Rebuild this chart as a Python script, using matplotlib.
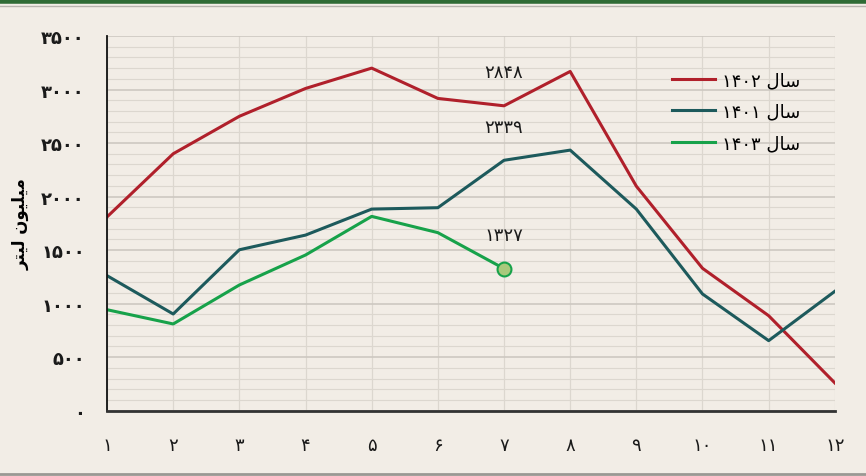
import numpy as np
import matplotlib
matplotlib.use('Agg')
from matplotlib import pyplot as plt
from matplotlib.lines import Line2D
from matplotlib.ticker import MultipleLocator

# ماه‌ها و مقادیر (میلیون لیتر)
months = list(range(1, 13))
s1402 = [1810, 2400, 2750, 3010, 3200, 2917, 2848, 3169, 2097, 1330, 887, 259]
s1401 = [1261, 903, 1503, 1640, 1883, 1896, 2339, 2434, 1883, 1090, 654, 1115]
s1403 = [943, 810, 1174, 1454, 1815, 1663, 1327]

fa = str.maketrans('0123456789', '\u06f0\u06f1\u06f2\u06f3\u06f4\u06f5\u06f6\u06f7\u06f8\u06f9')
def fa_num(v):
    return str(v).translate(fa)

# "سال" in presentation forms, visual order
sal = '\uFEDD\uFE8E\uFEB3'
ylab = '\uFEAE\uFE98\uFEF4\uFEDF \uFEE5\uFEEE\uFEF4\uFEE0\uFEF4\uFEE3'

bg = '#f2ede6'
c_red = '#b0202b'
c_teal = '#1d5a5c'
c_green = '#17a24a'

plt.rcParams['font.family'] = ['DejaVu Sans']
fig = plt.figure(figsize=(8.66, 4.77), dpi=100, facecolor=bg)
ax = fig.add_axes([0.1236, 0.137, 0.8404, 0.7854])
ax.set_facecolor(bg)

ax.plot(months, s1402, color=c_red, lw=2.2, label=fa_num(1402) + ' ' + sal)
ax.plot(months, s1401, color=c_teal, lw=2.2, label=fa_num(1401) + ' ' + sal)
ax.plot(months[:len(s1403)], s1403, color=c_green, lw=2.2, label=fa_num(1403) + ' ' + sal)
ax.plot(months[len(s1403) - 1], s1403[-1], 'o', ms=10, mfc='#a9c97c', mec=c_green, mew=1.5)

for ser in [s1402, s1401, s1403]:
    i = 6
    ax.annotate(fa_num(ser[i]), (months[i], ser[i]), xytext=(0, 24), textcoords='offset points',
                ha='center', va='center', fontsize=13, color='#1a1a1a')

ax.set_xlim(1, 12)
ax.set_ylim(0, 3500)
ax.set_xticks(months)
ax.set_xticklabels([fa_num(m) for m in months])
yt = list(range(0, 3501, 500))
ax.set_yticks(yt)
ax.set_yticklabels([fa_num(v) for v in yt])
ax.yaxis.set_minor_locator(MultipleLocator(100))
ax.tick_params(axis='both', which='both', length=0, labelsize=13, colors='#1a1a1a')
ax.tick_params(axis='y', pad=16)
ax.tick_params(axis='x', pad=18)
for lab in ax.get_yticklabels():
    lab.set_fontweight('bold')

ax.grid(axis='y', which='major', color='#cdc8c1', lw=1.2)
ax.grid(axis='y', which='minor', color='#dcd7cf', lw=0.8)
ax.grid(axis='x', which='major', color='#dcd7cf', lw=0.9)
ax.set_axisbelow(True)

for s in ['top', 'right']:
    ax.spines[s].set_visible(False)
ax.spines['left'].set_color('#111111')
ax.spines['left'].set_linewidth(1.3)
ax.spines['bottom'].set_color('#333333')
ax.spines['bottom'].set_linewidth(2)

ax.set_ylabel(ylab, fontsize=12, fontweight='bold', labelpad=8)

leg = ax.legend(loc='upper right', bbox_to_anchor=(0.975, 0.95), frameon=False, fontsize=13,
                handlelength=2.4, handletextpad=0.4, labelspacing=0.75)

fig.add_artist(Line2D([0, 1], [0.995, 0.995], transform=fig.transFigure, color='#2f6b35', lw=4))
fig.add_artist(Line2D([0, 1], [0.985, 0.985], transform=fig.transFigure, color='#b8b4ae', lw=1))
fig.add_artist(Line2D([0, 1], [0.004, 0.004], transform=fig.transFigure, color='#9a9893', lw=2))

fig.savefig('out.png', dpi=100, facecolor=bg)
